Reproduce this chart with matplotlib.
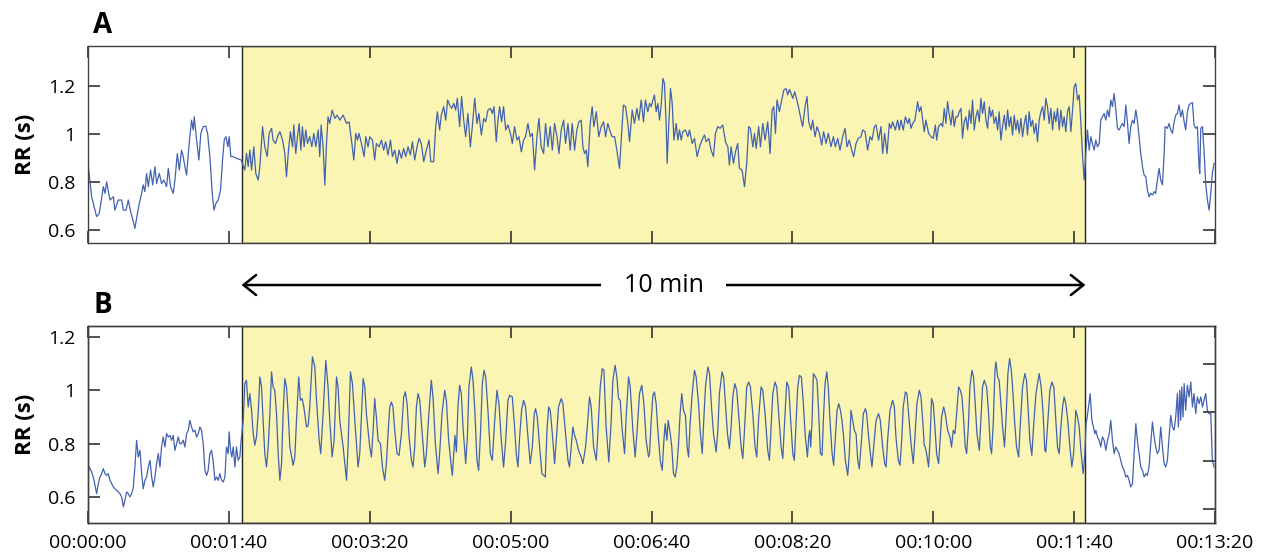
import matplotlib
matplotlib.use("Agg")
import matplotlib.pyplot as plt

plt.rcParams['font.family'] = ['Open Sans', 'DejaVu Sans']

# RR series, panel A (time in s, RR in s)
a_time = [
    0.0, 2.6, 6.1, 8.0, 10.9, 12.1, 13.2, 15.6, 18.0, 19.1,
    21.5, 23.9, 25.1, 27.0, 28.6, 30.3, 32.2, 33.3, 34.5, 36.4,
    38.1, 39.2, 40.4, 41.6, 42.8, 44.4, 45.9, 47.5, 48.7, 50.6,
    52.2, 53.9, 55.8, 57.0, 58.6, 60.5, 61.7, 63.4, 64.8, 66.4,
    67.6, 68.8, 70.0, 71.2, 72.3, 73.5, 74.7, 75.4, 77.1, 78.7,
    80.1, 81.8, 83.5, 84.9, 86.5, 88.2, 89.4, 90.8, 92.4, 94.1,
    95.5, 96.7, 97.9, 99.3, 100.2, 101.4, 103.1, 105.4, 107.8, 108.7,
    111.3, 112.5, 113.7, 114.9, 116.1, 117.7, 119.1, 120.8, 122.0, 123.9,
    125.5, 127.2, 128.6, 130.3, 131.4, 133.1, 135.0, 136.2, 138.1, 139.7,
    140.9, 142.3, 143.7, 145.2, 146.1, 147.5, 148.7, 149.9, 151.1, 152.2,
    153.4, 154.6, 155.8, 157.4, 158.9, 160.3, 161.7, 163.4, 164.5, 165.5,
    166.9, 168.1, 169.3, 170.4, 171.6, 173.3, 175.2, 176.8, 178.7, 181.1,
    183.5, 185.3, 187.0, 188.7, 190.1, 191.3, 192.4, 194.1, 196.0, 197.2,
    198.8, 200.0, 201.9, 203.5, 204.7, 206.6, 208.3, 209.9, 211.3, 213.0,
    214.7, 216.1, 217.7, 219.4, 220.8, 222.5, 224.1, 225.5, 227.2, 228.8,
    230.3, 231.9, 233.6, 235.0, 236.6, 238.3, 240.2, 242.1, 243.3, 245.4,
    246.8, 248.0, 249.6, 250.8, 252.5, 253.9, 255.3, 256.7, 258.2, 259.6,
    261.0, 262.2, 263.8, 265.2, 266.7, 268.1, 269.7, 271.4, 272.8, 274.5,
    276.1, 277.5, 279.2, 280.9, 282.3, 283.9, 285.6, 287.0, 288.2, 289.8,
    291.0, 292.2, 293.6, 295.0, 296.5, 298.1, 299.8, 301.2, 302.8, 304.5,
    305.9, 307.6, 309.2, 310.6, 312.3, 313.9, 315.4, 317.0, 318.7, 320.1,
    321.7, 323.4, 324.8, 326.5, 328.1, 329.6, 331.2, 332.9, 334.3, 335.9,
    337.6, 339.0, 340.7, 342.3, 343.7, 345.4, 347.0, 348.5, 350.1, 351.3,
    352.5, 353.7, 354.8, 356.5, 357.9, 359.1, 360.8, 362.6, 364.3, 366.0,
    367.4, 369.0, 370.7, 372.1, 373.8, 375.4, 377.3, 378.5, 380.1, 381.6,
    383.2, 384.4, 386.3, 387.9, 389.6, 391.0, 392.7, 394.3, 395.7, 397.4,
    398.6, 399.8, 401.0, 402.1, 403.3, 404.5, 405.7, 406.9, 408.1, 409.2,
    410.4, 411.1, 412.3, 413.5, 414.7, 415.9, 417.5, 418.7, 419.9, 421.1,
    422.2, 424.1, 425.8, 427.0, 428.9, 430.5, 432.4, 434.1, 435.9, 437.6,
    438.8, 440.7, 442.3, 444.0, 445.4, 447.1, 448.7, 450.6, 452.5, 454.2,
    455.3, 456.5, 458.2, 459.6, 461.2, 462.4, 464.3, 466.0, 467.6, 469.0,
    470.2, 471.9, 473.1, 474.3, 476.1, 477.3, 479.0, 480.6, 482.5, 484.2,
    485.6, 486.8, 488.0, 489.1, 490.8, 492.2, 493.9, 495.5, 496.7, 497.9,
    499.1, 500.3, 501.7, 502.6, 504.3, 506.2, 507.3, 509.0, 510.4, 511.6,
    513.3, 514.4, 516.1, 517.5, 519.2, 520.8, 522.2, 523.9, 525.5, 527.4,
    529.1, 530.5, 532.2, 533.8, 535.7, 537.4, 538.8, 540.4, 542.1, 543.5,
    545.2, 546.8, 548.7, 549.9, 551.6, 553.4, 555.1, 556.5, 558.2, 559.4,
    561.2, 562.9, 564.1, 565.5, 567.2, 568.8, 570.0, 571.2, 573.1, 574.7,
    575.9, 577.1, 578.7, 580.2, 581.8, 583.0, 584.2, 585.4, 587.0, 588.9,
    590.1, 591.3, 592.5, 593.6, 594.8, 596.7, 598.4, 600.0, 601.5, 602.4,
    603.8, 605.5, 606.7, 607.8, 609.0, 610.2, 611.4, 612.6, 613.7, 614.9,
    616.1, 617.3, 618.5, 619.7, 620.8, 622.0, 623.2, 624.4, 625.6, 626.8,
    627.9, 629.1, 630.3, 631.5, 632.7, 633.8, 635.0, 636.2, 637.4, 638.6,
    639.8, 640.9, 642.1, 643.3, 644.5, 645.7, 646.8, 648.0, 649.2, 650.4,
    651.6, 652.8, 653.9, 655.1, 656.3, 657.5, 658.7, 659.8, 661.0, 662.2,
    663.4, 664.6, 665.8, 666.9, 668.1, 669.3, 670.5, 671.7, 672.9, 674.0,
    675.2, 676.4, 677.6, 678.8, 679.9, 681.1, 682.3, 683.5, 684.7, 685.9,
    687.0, 688.2, 689.4, 690.6, 691.8, 692.9, 694.1, 695.3, 696.5, 697.7,
    698.9, 700.0, 701.2, 702.4, 703.6, 704.8, 705.9, 707.1, 708.3, 709.5,
    710.7, 711.9, 713.0, 714.2, 715.4, 716.6, 717.8, 718.9, 720.1, 721.3,
    722.5, 723.7, 724.9, 726.0, 727.2, 728.4, 729.6, 730.8, 731.9, 733.1,
    734.3, 735.5, 736.7, 737.9, 739.0, 740.2, 741.4, 742.6, 743.8, 744.9,
    746.1, 747.3, 748.5, 749.7, 750.9, 752.0, 753.2, 754.4, 755.6, 756.8,
    757.9, 759.1, 760.3, 761.5, 762.7, 763.9, 764.6, 766.2, 767.4, 768.6,
    769.8, 771.0, 772.1, 773.3, 774.5, 775.7, 776.9, 778.1, 779.2, 780.4,
    781.6, 782.8, 784.0, 785.1, 786.3, 787.5, 788.7, 789.2, 789.9, 791.1,
    792.2, 793.4, 794.6, 795.8, 797.0, 798.1, 799.3,
]
a_rr = [
    .878, .739, .656, .669, .781, .753, .801, .725, .739, .683,
    .725, .725, .683, .683, .725, .676, .635, .607, .649, .711,
    .753, .788, .760, .836, .781, .850, .788, .864, .794, .836,
    .794, .808, .781, .857, .781, .753, .808, .919, .850, .933,
    .906, .864, .829, .919, .989, 1.058, 1.017, 1.072, .975, .892,
    1.003, 1.031, 1.033, 1.003, .906, .753, .683, .711, .725, .767,
    .892, .975, .989, .947, .989, .906, .906, .899, .894, .892,
    .850, .919, .864, .933, .850, .947, .836, .808, .864, 1.031,
    .947, .906, 1.003, 1.024, .975, .961, .996, 1.010, .975, .919,
    .822, .933, 1.010, .947, 1.038, .919, .989, 1.044, .933, 1.031,
    .947, 1.017, .961, .989, .947, 1.003, .947, 1.017, .906, 1.038,
    .947, .788, .961, 1.072, 1.044, 1.100, 1.065, 1.079, 1.058, 1.079,
    1.044, 1.051, .975, .892, 1.003, .975, 1.003, .961, .906, .989,
    .947, .989, .975, .892, .961, .947, .975, .933, .968, .913,
    .975, .906, .933, .878, .933, .899, .940, .906, .947, .913,
    .968, .892, .947, .982, .961, .885, .933, .975, .885, .885,
    1.031, 1.093, 1.017, 1.079, 1.114, 1.058, 1.142, 1.121, 1.107, 1.128,
    1.100, 1.149, 1.031, 1.156, 1.058, .989, 1.086, .947, 1.031, 1.149,
    1.044, 1.086, .996, 1.065, 1.051, 1.100, 1.107, 1.086, 1.114, .968,
    1.058, 1.114, 1.051, 1.114, 1.017, 1.038, 1.003, .961, 1.031, .975,
    .989, .926, .975, .989, 1.044, .989, 1.003, .850, .989, 1.065,
    .947, .919, 1.044, .947, 1.031, .933, 1.044, .989, .919, 1.017,
    1.058, .961, 1.044, .933, 1.044, .933, 1.017, 1.051, 1.058, .947,
    .919, .933, .864, 1.044, 1.114, 1.031, 1.093, .989, 1.031, 1.051,
    .989, 1.044, 1.010, .989, .989, .933, .857, .975, 1.121, 1.114,
    1.044, .968, 1.100, 1.044, 1.107, 1.058, 1.142, 1.051, 1.142, 1.093,
    1.128, 1.114, 1.142, 1.163, 1.093, 1.128, 1.058, 1.121, 1.232, 1.211,
    1.044, .878, 1.044, 1.190, 1.128, .975, 1.044, .975, 1.017, .975,
    1.010, 1.017, .989, 1.017, .961, .982, .906, .947, .975, .996,
    .968, .982, .933, .906, 1.003, 1.031, 1.024, 1.038, .968, .947,
    .871, .947, .878, .926, .961, .857, .850, .781, .878, 1.031,
    1.024, .947, 1.003, .940, 1.031, .947, 1.044, .975, 1.051, .919,
    1.100, 1.114, 1.003, 1.142, 1.093, 1.135, 1.183, 1.190, 1.163, 1.186,
    1.169, 1.149, 1.176, 1.156, 1.114, 1.058, 1.031, 1.114, 1.156, 1.051,
    1.017, 1.058, .989, 1.031, 1.003, .954, 1.010, .961, 1.003, .947,
    .989, .947, .982, .933, .989, 1.024, .947, .975, .933, .906,
    .961, .982, .989, 1.017, 1.010, .933, .989, .975, 1.031, 1.038,
    .975, 1.031, .919, 1.003, .919, 1.044, 1.024, 1.051, 1.017, 1.058,
    1.017, 1.058, 1.017, 1.072, 1.044, 1.065, 1.024, 1.044, 1.058, 1.135,
    1.093, 1.114, 1.058, 1.010, 1.058, 1.003, .989, .982, 1.038, .975,
    1.031, 1.044, 1.031, 1.107, 1.044, 1.135, 1.079, 1.038, 1.100, 1.031,
    1.072, 1.072, 1.093, 1.107, .982, 1.051, 1.072, 1.017, 1.100, 1.044,
    1.142, 1.017, 1.072, 1.100, 1.051, 1.149, 1.086, 1.135, 1.058, 1.024,
    1.114, 1.072, 1.100, 1.044, 1.072, 1.017, 1.093, .975, 1.031, 1.079,
    1.017, 1.100, 1.031, 1.072, .996, 1.079, 1.017, 1.058, 1.003, 1.065,
    .989, 1.044, 1.079, .996, 1.093, 1.031, 1.058, 1.003, 1.044, .968,
    1.058, 1.093, 1.114, 1.058, 1.149, 1.114, 1.044, 1.107, 1.017, 1.093,
    1.051, 1.107, 1.017, 1.100, 1.031, 1.072, 1.010, 1.093, 1.114, 1.010,
    1.100, 1.197, 1.211, 1.142, 1.163, 1.044, .919, .808, .919, 1.017,
    .933, .989, .961, .933, .975, .947, .961, 1.058, 1.072, 1.086,
    1.058, 1.100, 1.072, 1.142, 1.114, 1.169, 1.100, 1.024, 1.017, 1.031,
    1.044, 1.031, 1.121, 1.044, .961, 1.031, 1.058, 1.044, 1.100, 1.058,
    .989, .919, .864, .829, .822, .767, .739, .753, .746, .760,
    .753, .808, .857, .808, .788, .919, 1.031, 1.024, 1.044, 1.017,
    1.003, 1.051, 1.079, 1.086, 1.121, 1.072, 1.100, 1.051, 1.017, 1.093,
    1.121, 1.128, 1.131, 1.038, 1.024, 1.031, .864, .836, 1.024, 1.031,
    .933, .794, .725, .683, .753, .836, .878,
]

# RR series, panel B
b_time = [
    0.0, 0.9, 2.6, 4.3, 6.1, 7.3, 8.5, 9.7, 10.9, 12.1,
    13.2, 14.4, 15.6, 16.8, 18.0, 19.1, 20.3, 21.5, 22.7, 23.9,
    25.1, 26.2, 27.4, 28.6, 29.8, 31.0, 32.2, 33.3, 34.5, 35.7,
    36.9, 38.1, 39.2, 40.4, 41.6, 42.8, 44.0, 45.2, 46.3, 47.5,
    48.7, 49.9, 51.1, 52.2, 53.4, 54.6, 55.8, 57.0, 58.2, 59.3,
    60.5, 61.7, 62.9, 64.1, 65.2, 66.4, 67.6, 68.8, 70.0, 71.2,
    72.3, 73.5, 74.7, 75.9, 77.1, 78.3, 79.4, 80.6, 81.8, 83.0,
    84.2, 85.3, 86.5, 87.7, 88.9, 90.1, 91.3, 92.4, 93.6, 94.8,
    96.0, 97.2, 98.3, 99.5, 100.2, 101.2, 102.1, 103.1, 104.3, 105.4,
    106.6, 107.8, 108.7, 110.2, 111.3, 112.5, 113.7, 114.9, 116.1, 117.3,
    118.4, 119.6, 120.8, 122.0, 123.2, 124.3, 125.5, 126.7, 127.9, 129.1,
    130.3, 131.4, 132.6, 133.8, 135.0, 136.2, 137.4, 138.5, 139.7, 140.9,
    142.1, 143.3, 145.6, 146.8, 148.0, 149.6, 150.8, 152.0, 153.2, 155.1,
    156.3, 157.4, 159.3, 161.0, 162.2, 164.1, 165.2, 166.9, 168.8, 170.4,
    171.6, 173.3, 174.7, 176.4, 177.5, 178.7, 181.1, 183.5, 184.6, 186.3,
    187.7, 189.4, 191.7, 192.9, 195.3, 196.5, 197.6, 200.0, 201.2, 202.4,
    203.5, 204.7, 205.9, 207.6, 209.0, 210.6, 211.8, 213.0, 214.2, 215.4,
    216.5, 217.7, 219.4, 220.8, 222.5, 224.1, 225.3, 226.5, 227.9, 229.6,
    230.7, 231.9, 233.1, 234.3, 235.5, 237.1, 239.0, 240.2, 241.8, 243.7,
    244.9, 246.6, 248.5, 249.6, 251.3, 253.2, 254.4, 256.0, 257.9, 258.6,
    259.6, 260.5, 261.5, 262.6, 263.8, 265.0, 266.2, 268.1, 269.3, 270.4,
    272.1, 273.3, 274.7, 276.1, 277.3, 278.7, 279.9, 281.1, 282.3, 283.9,
    285.6, 287.0, 288.7, 290.3, 291.7, 293.4, 295.0, 296.5, 298.1, 299.3,
    301.2, 302.8, 304.0, 305.2, 306.4, 307.8, 309.2, 310.6, 312.3, 313.9,
    315.4, 316.8, 317.7, 318.9, 320.6, 322.2, 323.4, 324.6, 325.8, 327.0,
    328.1, 329.6, 331.2, 332.4, 334.0, 335.9, 337.1, 338.8, 340.7, 341.8,
    343.0, 344.2, 345.4, 346.6, 348.2, 350.1, 351.3, 353.2, 354.8, 356.0,
    357.2, 358.9, 360.8, 361.9, 363.6, 365.0, 366.2, 367.8, 369.7, 371.4,
    372.6, 374.2, 375.4, 376.6, 377.8, 379.2, 380.9, 382.0, 383.7, 384.9,
    386.8, 388.4, 389.8, 391.5, 393.1, 394.6, 396.2, 397.9,
    398.6, 399.8, 401.0, 402.1, 403.3, 404.5, 406.2, 407.6, 408.8, 409.7,
    410.9, 411.8, 413.3, 414.4, 415.6, 416.8, 418.0, 419.2, 420.3, 421.5,
    422.7, 424.1, 425.3, 426.3, 427.4, 428.9, 430.5, 431.7, 433.4, 434.5,
    436.0, 437.1, 438.3, 440.0, 441.2, 442.6, 444.0, 445.9, 447.1, 448.2,
    450.1, 451.3, 452.5, 453.9, 455.3, 456.5, 457.7, 459.1, 460.5, 462.0,
    463.6, 464.8, 466.0, 467.6, 469.0, 470.2, 471.9, 473.5, 474.7, 476.1,
    477.8, 479.0, 480.6, 482.5, 483.7, 484.9, 486.1, 487.7, 488.9, 490.3,
    492.0, 493.2, 494.3, 496.0, 497.4, 498.8, 500.3, 501.4, 502.6, 503.8,
    505.0, 506.4, 507.8, 509.2, 510.7, 511.6, 512.3, 513.0, 514.0, 514.9,
    516.3, 517.5, 518.7, 519.9, 521.1, 522.0, 523.2, 524.4, 525.5, 526.7,
    528.2, 529.3, 530.5, 531.7, 532.9, 534.1, 535.2, 536.4, 537.6, 539.3,
    540.4, 541.6, 542.8, 544.0, 545.2, 546.4, 547.5, 548.7, 550.4, 551.8,
    552.7, 553.9, 555.1, 556.5, 557.7, 559.4, 561.2, 562.4, 564.1, 565.5,
    566.5, 567.6, 569.3, 571.2, 572.4, 573.5, 575.2, 576.4, 577.6, 578.7,
    580.2, 581.3, 582.5, 584.2, 585.8, 587.0, 588.4, 590.1, 591.3, 592.5,
    593.6, 594.3, 595.3, 596.7, 597.7, 598.8, 600.0, 601.2, 602.4, 603.8,
    605.9, 607.4, 608.5, 610.2, 611.9, 613.0, 614.2, 615.4, 616.6, 618.0,
    619.2, 620.4, 621.6, 622.7, 623.7, 624.9, 626.0, 627.5, 628.6, 629.8,
    631.0, 632.7, 633.8, 635.0, 636.2, 637.9, 639.3, 640.5, 641.4, 642.6,
    643.8, 644.5, 645.7, 646.8, 648.0, 649.2, 650.6, 651.6, 653.0, 654.2,
    655.4, 656.3, 657.7, 659.1, 660.6, 661.7, 663.4, 665.0, 666.2, 667.4,
    668.6, 670.0, 671.2, 672.9, 675.2, 676.6, 678.0, 679.2, 679.9, 681.4,
    682.8, 684.2, 685.6, 687.0, 688.2, 689.4, 690.6, 691.8, 692.9, 694.1,
    695.5, 697.0, 698.4, 699.6, 701.2, 702.4, 703.6, 704.8, 706.4, 707.6,
    708.5, 709.3, 710.2, 711.4, 712.6, 713.7, 714.7, 715.4, 716.6, 717.8,
    718.9, 720.1, 721.3, 722.5, 723.7, 724.9, 726.0, 727.2, 728.4, 729.6,
    730.8, 731.9, 733.1, 734.3, 735.5, 736.7, 737.9, 739.0, 740.2, 741.4,
    742.6, 743.8, 744.9, 746.1, 747.3, 748.5, 749.7, 750.9, 752.0, 753.2,
    754.4, 755.6, 756.8, 757.9, 759.1, 760.3, 761.5, 762.7, 763.9, 765.0,
    766.2, 767.4, 768.6, 769.8, 771.0, 772.1, 773.3, 774.0, 775.0, 775.7,
    776.4, 777.3, 778.1, 779.2, 780.4, 781.6, 782.8, 784.0, 785.1, 786.3,
    787.5, 788.7, 789.9, 791.1, 792.2, 793.4, 794.6, 795.8, 797.0, 798.1,
    799.3,
]
b_rr = [
    .6875, .7125, .694, .6625, .6125, .65, .675, .6875, .706, .6875,
    .681, .6875, .6625, .65, .6375, .631, .625, .619, .6125, .60,
    .5625, .5875, .619, .6125, .60, .6125, .6375, .7125, .8125, .75,
    .775, .6875, .631, .6625, .675, .7125, .7375, .675, .6375, .675,
    .725, .7625, .7125, .7875, .825, .7875, .8375, .825, .831, .8125,
    .831, .775, .80, .825, .80, .80, .8125, .7875, .8375, .85,
    .8875, .8625, .844, .85, .825, .8375, .8625, .85, .80, .70,
    .681, .70, .7625, .775, .731, .6625, .675, .6625, .6875, .6625,
    .656, .675, .7875, .7625, .844, .775, .75, .7875, .7125, .7875,
    .7375, .75, .8125, .8875, 1.025, 1.0375, .9375, .9875, .925, .8375,
    .794, .825, .9125, 1.05, 1.0125, .8875, .7625, .7125, .7875, .9125,
    1.069, 1.0125, 1.0, .9125, .7625, .6625, .725, .9125, 1.044, 1.0125,
    .9125, .7875, .719, .75, .8875, 1.05, .9625, .969, .9375, .8625,
    .869, .9375, 1.125, 1.0875, .9625, .8125, .7625, .9125, 1.1125, 1.0125,
    .8875, .75, .8125, 1.05, 1.0125, .8875, .7875, .6625, .7875, 1.069,
    1.025, .8875, .7125, .7625, 1.044, 1.0125, .9125, .7875, .75, .85,
    .969, .90, .8125, .80, .7125, .6625, .725, .8375, .9375, .956,
    .9375, .85, .7625, .756, .8375, .975, .994, .95, .825, .7375,
    .7125, .7875, .9375, .9875, .9625, .85, .7125, .7625, .90, 1.0375,
    .975, .80, .6875, .7625, .9125, 1.0, .9625, .8125, .7125, .681,
    .7625, .831, .769, .9375, 1.019, .9875, .8625, .725, .825, 1.0125,
    1.0875, 1.0375, .9125, .7375, .70, .85, 1.025, 1.075, 1.05, .925,
    .7625, .7375, .8875, 1.0, .95, .8125, .7125, .8125, .9625, .981,
    .975, .8625, .7625, .7125, .825, .925, .9625, .9375, .825, .725,
    .7875, .9125, .931, .90, .7875, .6875, .681, .675, .85, .9375,
    .925, .8375, .725, .8125, .9375, .969, .95, .85, .7375, .7125,
    .7875, .8625, .831, .8125, .775, .75, .725, .7875, .8875, .975,
    .9375, .7875, .7375, .8375, 1.0125, 1.081, 1.075, .8625, .731, .8875,
    1.0375, 1.094, 1.05, .969, .9625, .85, .7625, .90, 1.05, 1.0125,
    .85, .75, .85, .9875, 1.019, .95, .8125, .75,
    .7625, .8875, .981, .994, .95, .85, .7375, .70, .8125, .875,
    .8125, .8875, .8375, .7875, .6875, .675, .7125, .80, .9125, .9875,
    .925, .906, .7875, .75, .875, .9875, 1.075, 1.05, .95, .85,
    .7625, .8875, 1.0125, 1.0875, 1.0625, .9375, .8375, .769, .85, .9875,
    1.069, 1.044, .95, .8375, .781, .8625, .975, 1.025, 1.0, .90,
    .7875, .744, .85, 1.0125, 1.031, 1.0125, .9125, .7875, .75, .90,
    1.0125, 1.0, .9125, .775, .7375, .8625, .9875, 1.031, 1.0125, .9125,
    .7875, .744, .8625, 1.031, 1.0125, .8875, .7625, .7375, .875, 1.0125,
    1.056, 1.05, .95, .825, .75, .825, .85, .7875, .8875, 1.0625,
    1.05, 1.0375, .9125, .7625, .756, .8875, 1.025, 1.069, 1.0125, .8875,
    .7625, .719, .825, .925, .95, .925, .8875, .825, .7375, .681,
    .7625, .925, .8875, .85, .8375, .7375, .706, .7875, .9125, .931,
    .9125, .8375, .775, .7125, .7875, .8875, .9125, .8875, .7875, .725,
    .7125, .8125, .925, .9625, .9375, .825, .7375, .719, .8125, .9375,
    .994, .9875, .9125, .80, .725, .825, .95, 1.0, .975, .8875,
    .794, .7875, .7625, .7125, .8125, .969, .95, .8625, .7625, .725,
    .90, .9375, .9125, .85, .825, .7875, .85, .8375, .9125, 1.0125,
    1.0, .975, .8875, .7875, .7625, .8625, 1.0125, 1.075, 1.05, .95,
    .8375, .775, .8875, 1.0125, 1.0375, 1.0125, .9125, .7875, .7625, .875,
    1.075, 1.106, 1.05, 1.0375, .95, .8625, .7875, .8875, 1.0625, 1.119,
    1.075, 1.0125, .8875, .7875, .75, .8625, 1.0125, 1.0625, 1.0375, .925,
    .8125, .756, .8625, .9875, 1.0625, 1.0125, .9125, .775, .769, .8875,
    1.0, 1.031, 1.0125, .8875, .7875, .7625, .8625, .9375, .975, .95,
    .8875, .7875, .7125, .7625, .925, .90, .8625, .775, .6875, .7625,
    .875, .90, .9375, .9875, .8875, .8625, .8375, .85, .825, .8125,
    .7875, .825, .8125, .775, .8125, .8375, .8875, .8125, .7625, .7875,
    .775, .7625, .7375, .7125, .70, .675, .681, .6625, .6375, .65,
    .7625, .875, .8125, .7625, .7125, .70, .675, .6875, .681, .7125,
    .80, .881, .825, .7875, .7625, .775, .8625, .7875, .725, .7125,
    .7375, .825, .906, .8625, .85, .90, .9875, .8625, 1.0, .8875,
    1.0125, .90, 1.025, .925, 1.019, .975, 1.031, .9375, .9875, .9125,
    .975, .95, .975, .9375, .9625, .9875, .925, .9125, .9125, .7375,
    .7125,
]

# shaded 10-min window and axis labels
window = (109, 708)
x_ticks = list(range(0, 801, 100))
x_labels = ['%02d:%02d:%02d' % (s // 3600, s % 3600 // 60, s % 60) for s in x_ticks]
y_ticks = [0.6, 0.8, 1.0, 1.2]

line_color = '#4262B0'
span_color = '#FAF5B3'
dark = '#333333'

fig = plt.figure(figsize=(12.7, 5.53), dpi=100)
axA = fig.add_axes([88 / 1270, 1 - 243 / 553, 1127 / 1270, 197 / 553])
axB = fig.add_axes([88 / 1270, 1 - 523 / 553, 1127 / 1270, 197 / 553])


def style_axis(ax, ylim, show_xlabels, right_ticks=True):
    ax.axvspan(*window, facecolor=span_color, edgecolor='#222222', lw=1.0, zorder=0)
    ax.set_xlim(0, 800)
    ax.set_ylim(*ylim)
    ax.set_xticks(x_ticks)
    ax.set_xticklabels(x_labels if show_xlabels else [])
    ax.set_yticks(y_ticks)
    ax.set_yticklabels(['0.6', '0.8', '1', '1.2'])
    ax.tick_params(axis='both', direction='in', length=8.6, width=1.2, color=dark,
                   labelsize=14, top=True, right=right_ticks)
    ax.tick_params(axis='y', pad=9)
    ax.tick_params(axis='x', pad=8)
    for sp in ax.spines.values():
        sp.set_color('#404040')
        sp.set_linewidth(1.0)
    ax.set_ylabel('RR (s)', fontsize=16, fontweight='bold')
    ax.yaxis.set_label_coords(-0.046, 0.5)


style_axis(axA, (0.546, 1.367), False)
style_axis(axB, (0.5025, 1.241), True, right_ticks=False)

axA.plot(a_time, a_rr, color=line_color, lw=0.9, zorder=2)
axB.plot(b_time, b_rr, color=line_color, lw=0.9, zorder=2)

# right-hand ticks of panel B sit on panel A's scale
twin = axB.twinx()
twin.set_ylim(0.542, 1.357)
twin.set_yticks(y_ticks)
twin.tick_params(axis='y', direction='in', length=8.6, width=1.2, color=dark, labelright=False)
for sp in twin.spines.values():
    sp.set_color('#404040')
    sp.set_linewidth(1.0)

# panel letters
fig.text(93 / 1270, 1 - 33 / 553, 'A', fontsize=20, fontweight='bold', ha='left', va='baseline')
fig.text(94 / 1270, 1 - 313 / 553, 'B', fontsize=20, fontweight='bold', ha='left', va='baseline')

# 10 min arrow between the panels
arrow_y = 1.208
axB.annotate('', xy=(window[1], arrow_y), xytext=(window[0], arrow_y),
             xycoords=axB.get_xaxis_transform(), textcoords=axB.get_xaxis_transform(),
             arrowprops=dict(arrowstyle='<->,head_length=0.45,head_width=0.36', lw=1.8,
                             color='black', shrinkA=0, shrinkB=0, mutation_scale=20),
             annotation_clip=False)
axB.text(sum(window) / 2, arrow_y, '10 min', transform=axB.get_xaxis_transform(),
         ha='center', va='center', fontsize=18, clip_on=False,
         bbox=dict(boxstyle='square,pad=0.9', fc='white', ec='none'))

fig.savefig('out.png', dpi=100)
